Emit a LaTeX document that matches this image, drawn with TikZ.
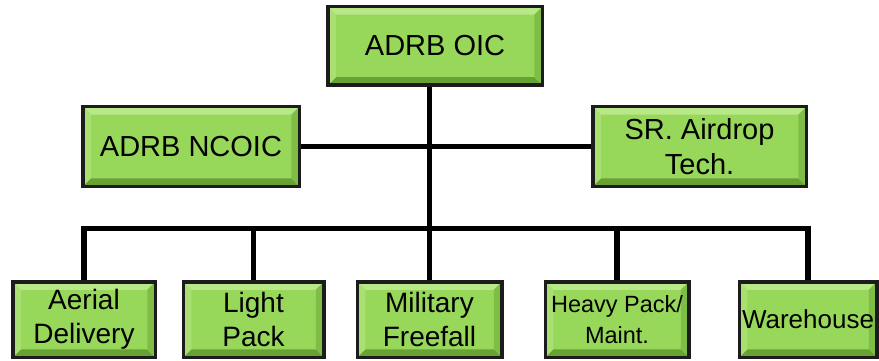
\documentclass[tikz,border=0pt]{standalone}
\usepackage{fontspec}
\setmainfont{Liberation Sans}
\definecolor{face}{HTML}{97D85B}
\definecolor{bevtop}{HTML}{B8E887}
\definecolor{bevleft}{HTML}{A8E072}
\definecolor{bevright}{HTML}{7FBE46}
\definecolor{bevbot}{HTML}{68A234}
\definecolor{edge}{HTML}{1C1C1C}
\tikzset{
  bx/.style={draw=edge, line width=3.5pt, fill=face, inner sep=0pt, align=center,
    path picture={
      \fill[bevtop] (path picture bounding box.north west) -- (path picture bounding box.north east)
        -- ([xshift=-8pt,yshift=-8pt]path picture bounding box.north east) -- ([xshift=8pt,yshift=-8pt]path picture bounding box.north west) -- cycle;
      \fill[bevbot] (path picture bounding box.south west) -- (path picture bounding box.south east)
        -- ([xshift=-8pt,yshift=8pt]path picture bounding box.south east) -- ([xshift=8pt,yshift=8pt]path picture bounding box.south west) -- cycle;
      \fill[bevleft] (path picture bounding box.north west) -- (path picture bounding box.south west)
        -- ([xshift=8pt,yshift=8pt]path picture bounding box.south west) -- ([xshift=8pt,yshift=-8pt]path picture bounding box.north west) -- cycle;
      \fill[bevright] (path picture bounding box.north east) -- (path picture bounding box.south east)
        -- ([xshift=-8pt,yshift=8pt]path picture bounding box.south east) -- ([xshift=-8pt,yshift=-8pt]path picture bounding box.north east) -- cycle;
    }},
  big/.style={font=\fontsize{29}{35}\selectfont},
  mid/.style={font=\fontsize{28}{34}\selectfont},
  small/.style={font=\fontsize{23.5}{31}\selectfont},
  conn/.style={line width=5.5pt, black}
}
\begin{document}
\begin{tikzpicture}[x=1pt,y=-1pt]
\useasboundingbox (0,0) rectangle (879,361);
\node[bx,big,minimum width=214.5pt,minimum height=78.5pt] (oic) at (435,46) {ADRB OIC};
\node[bx,big,minimum width=216.5pt,minimum height=79.5pt] (ncoic) at (191,146.5) {ADRB NCOIC};
\node[bx,big,minimum width=213.5pt,minimum height=79.5pt] (sr) at (699.5,146.5) {SR. Airdrop\\Tech.};
\node[bx,mid,minimum width=142.5pt,minimum height=75.5pt] (aer) at (84,319.5) {Aerial\\Delivery};
\node[bx,mid,minimum width=140.5pt,minimum height=75.5pt] (light) at (253.5,319.5) {Light\\Pack};
\node[bx,mid,minimum width=144.5pt,minimum height=75.5pt] (mil) at (429.5,319.5) {Military\\Freefall};
\node[bx,small,minimum width=143.5pt,minimum height=75.5pt] (heavy) at (617,319.5) {Heavy Pack/\\Maint.};
\node[bx,font=\fontsize{26}{31}\selectfont,minimum width=137.5pt,minimum height=75.5pt] (ware) at (808,319.5) {Warehouse};
\coordinate (bus) at (0,228.5);
% connectors
\draw[conn] (ncoic.east) -- (sr.west);
\draw[conn] (oic.south -| mil.north) -- (mil.north);
\draw[conn] (aer.north) -- (aer.north |- bus) -- (ware.north |- bus) -- (ware.north);
\draw[conn] (light.north) -- (light.north |- bus);
\draw[conn] (heavy.north) -- (heavy.north |- bus);
\end{tikzpicture}
\end{document}
